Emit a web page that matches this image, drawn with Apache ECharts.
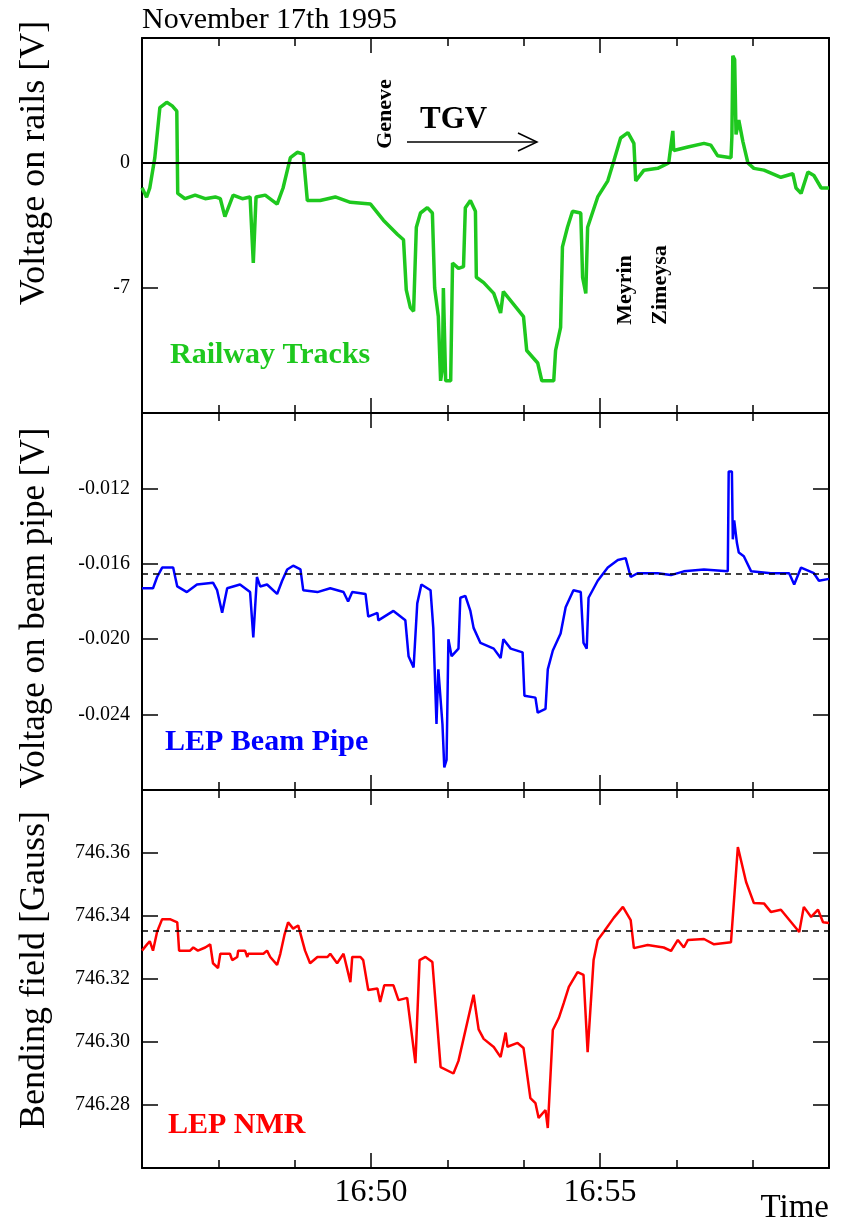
<!DOCTYPE html>
<html><head><meta charset="utf-8">
<script src="https://cdn.jsdelivr.net/npm/echarts/dist/echarts.min.js"></script>
<style>html,body{margin:0;padding:0;background:#fff}#c{width:841px;height:1222px}</style>
</head><body><div id="c"></div>
<script>
// time in minutes after 16:45
const startHour = 16, startMinute = 45;
const timeTicks = [5, 10];  // 16:50, 16:55

const railTime = [0.00,0.10,0.17,0.28,0.39,0.54,0.66,0.76,0.78,0.94,1.16,1.38,1.60,1.71,1.81,1.99,2.19,2.36,2.43,2.49,2.69,2.95,3.08,3.24,3.39,3.52,3.61,3.89,4.22,4.55,4.99,5.27,5.58,5.71,5.77,5.86,5.93,5.99,6.08,6.23,6.34,6.39,6.47,6.52,6.56,6.58,6.63,6.74,6.78,6.91,7.02,7.06,7.17,7.28,7.30,7.46,7.68,7.83,7.89,8.11,8.33,8.40,8.64,8.73,8.99,9.03,9.14,9.18,9.29,9.40,9.58,9.62,9.69,9.73,9.95,10.17,10.30,10.45,10.61,10.74,10.78,10.96,11.26,11.50,11.59,11.61,11.92,12.27,12.42,12.57,12.86,12.88,12.90,12.94,12.97,13.03,13.12,13.23,13.36,13.58,13.95,14.21,14.28,14.39,14.54,14.67,14.83,15.00];
const railVolt = [-1.38,-1.92,-1.4,0.3,3.1,3.4,3.2,2.9,-1.7,-2.0,-1.8,-2.0,-1.9,-2.0,-3.0,-1.8,-2.0,-1.9,-5.6,-1.9,-1.8,-2.3,-1.4,0.3,0.6,0.5,-2.1,-2.1,-1.9,-2.2,-2.3,-3.2,-4.0,-4.3,-7.1,-8.1,-8.3,-3.6,-2.8,-2.5,-2.8,-7.0,-8.6,-12.2,-11.5,-7.0,-12.2,-12.2,-5.6,-5.9,-5.8,-2.5,-2.1,-2.7,-6.4,-6.7,-7.3,-8.4,-7.2,-7.9,-8.6,-10.5,-11.2,-12.2,-12.2,-10.5,-9.2,-4.7,-3.6,-2.7,-2.8,-6.4,-7.3,-3.6,-1.9,-1.0,0.1,1.4,1.7,1.1,-1.0,-0.4,-0.3,0.0,1.8,0.7,0.9,1.1,1.0,0.4,0.3,1.5,6.0,5.8,1.6,2.4,1.2,0.0,-0.3,-0.4,-0.8,-0.6,-1.4,-1.7,-0.5,-0.7,-1.4,-1.4];

const pipeTime = [0.00,0.24,0.33,0.44,0.68,0.77,0.98,1.20,1.55,1.64,1.75,1.86,2.14,2.36,2.43,2.47,2.51,2.58,2.73,2.95,3.06,3.17,3.30,3.46,3.52,3.83,4.11,4.40,4.50,4.59,4.88,4.94,5.14,5.16,5.49,5.75,5.82,5.93,6.01,6.10,6.30,6.36,6.43,6.47,6.56,6.60,6.65,6.69,6.76,6.91,6.95,7.06,7.17,7.24,7.39,7.68,7.83,7.89,8.05,8.31,8.35,8.59,8.64,8.81,8.86,8.97,9.14,9.25,9.42,9.58,9.64,9.71,9.75,9.95,10.17,10.39,10.56,10.67,10.82,11.26,11.55,11.83,12.27,12.79,12.81,12.88,12.90,12.93,12.99,13.03,13.14,13.30,13.73,14.13,14.24,14.39,14.67,14.78,15.00];
const pipeVolt = [-0.0173,-0.0173,-0.0167,-0.0162,-0.0162,-0.0172,-0.0175,-0.0171,-0.0170,-0.0174,-0.0186,-0.0173,-0.0171,-0.0175,-0.0199,-0.0199,-0.0167,-0.0172,-0.0171,-0.0176,-0.0169,-0.0163,-0.0161,-0.0163,-0.0174,-0.0175,-0.0173,-0.0175,-0.0180,-0.0175,-0.0176,-0.0188,-0.0186,-0.0190,-0.0185,-0.0190,-0.0209,-0.0215,-0.0181,-0.0171,-0.0174,-0.0194,-0.0245,-0.0216,-0.0245,-0.0268,-0.0264,-0.0200,-0.0209,-0.0205,-0.0178,-0.0177,-0.0185,-0.0194,-0.0202,-0.0205,-0.0210,-0.0200,-0.0205,-0.0207,-0.0230,-0.0231,-0.0239,-0.0237,-0.0216,-0.0206,-0.0197,-0.0183,-0.0174,-0.0175,-0.0202,-0.0205,-0.0178,-0.0169,-0.0162,-0.0158,-0.0157,-0.0167,-0.0165,-0.0165,-0.0166,-0.0164,-0.0163,-0.0164,-0.0111,-0.0111,-0.0147,-0.0137,-0.0149,-0.0154,-0.0156,-0.0164,-0.0165,-0.0165,-0.0171,-0.0162,-0.0165,-0.0169,-0.0168];

const nmrTime = [0.00,0.11,0.17,0.24,0.33,0.44,0.61,0.77,0.81,1.05,1.12,1.22,1.38,1.49,1.55,1.66,1.71,1.92,1.97,2.08,2.10,2.25,2.30,2.32,2.65,2.73,2.80,2.95,3.02,3.11,3.19,3.30,3.41,3.56,3.67,3.83,4.05,4.11,4.26,4.40,4.55,4.59,4.77,4.83,4.94,5.14,5.20,5.29,5.49,5.60,5.79,5.97,6.06,6.19,6.34,6.52,6.80,6.91,7.24,7.35,7.46,7.68,7.83,7.94,7.98,8.20,8.33,8.48,8.59,8.66,8.81,8.86,8.97,9.10,9.21,9.32,9.51,9.64,9.73,9.86,9.95,10.08,10.30,10.50,10.67,10.74,11.04,11.39,11.55,11.70,11.83,11.92,12.27,12.49,12.86,13.01,13.19,13.36,13.58,13.73,13.95,14.35,14.45,14.61,14.76,14.87,15.00];
const nmrField = [746.329,746.331,746.332,746.329,746.335,746.339,746.339,746.338,746.329,746.329,746.330,746.329,746.330,746.331,746.325,746.3235,746.328,746.328,746.326,746.327,746.329,746.329,746.327,746.328,746.328,746.329,746.327,746.3245,746.328,746.334,746.338,746.336,746.337,746.329,746.325,746.327,746.327,746.328,746.325,746.328,746.319,746.327,746.327,746.326,746.3165,746.317,746.3127,746.318,746.318,746.3133,746.314,746.2933,746.326,746.327,746.3254,746.292,746.290,746.294,746.315,746.304,746.301,746.2984,746.2952,746.303,746.2985,746.2997,746.2981,746.2822,746.2806,746.2759,746.2784,746.2727,746.3038,746.3076,746.3124,746.3175,746.3222,746.3213,746.2968,746.326,746.3324,746.3349,746.3394,746.3429,746.3387,746.3298,746.3308,746.330,746.3289,746.3324,746.330,746.3324,746.3327,746.331,746.3317,746.3619,746.3508,746.3441,746.344,746.3413,746.342,746.3349,746.3429,746.3397,746.342,746.338,746.3378];

const pipeReference = -0.01654;
const nmrReference = 746.3352;

const yTitles = ['Voltage on rails [V]', 'Voltage on beam pipe [V]', 'Bending field [Gauss]'];
const panelNames = ['Railway Tracks', 'LEP Beam Pipe', 'LEP NMR'];
const colors = ['#1ec81e', '#0000ff', '#ff0000'];

const FONT = 'Liberation Serif';
const chart = echarts.init(document.getElementById('c'), null, {renderer: 'canvas'});

const grids = [
  {left: 142, top: 38, width: 687, height: 375},
  {left: 142, top: 413, width: 687, height: 377},
  {left: 142, top: 790, width: 687, height: 378}
];
const yRanges = [
  {min: -14, max: 7, interval: 7, fmt: v => String(v)},
  {min: -0.028, max: -0.008, interval: 0.004, fmt: v => v.toFixed(3)},
  {min: 746.26, max: 746.38, interval: 0.02, fmt: v => v.toFixed(2)}
];

function tlabel(v) {
  const m = startHour * 60 + startMinute + v;
  const hh = Math.floor(m / 60), mm = Math.round(m % 60);
  return hh + ':' + (mm < 10 ? '0' : '') + mm;
}

const axLine = {show: true, onZero: false, lineStyle: {color: '#000', width: 2}};
const xAxes = [], yAxes = [];
grids.forEach((g, i) => {
  ['bottom', 'top'].forEach(pos => {
    xAxes.push({
      type: 'value', gridIndex: i, position: pos, min: 0, max: 15, interval: 5,
      axisLine: axLine,
      axisTick: {show: true, inside: true, length: 15, lineStyle: {color: '#000', width: 1.5}},
      minorTick: {show: true, splitNumber: 3, length: 8, lineStyle: {color: '#000', width: 1.5}},
      splitLine: {show: false}, minorSplitLine: {show: false},
      axisLabel: {
        show: i === 2 && pos === 'bottom', showMinLabel: false, showMaxLabel: false,
        formatter: v => timeTicks.includes(v) ? tlabel(v) : '',
        fontFamily: FONT, fontSize: 32, color: '#000', margin: 9
      }
    });
  });
  ['left', 'right'].forEach(pos => {
    const r = yRanges[i];
    yAxes.push({
      type: 'value', gridIndex: i, position: pos, min: r.min, max: r.max, interval: r.interval,
      axisLine: axLine,
      axisTick: {show: true, inside: true, length: 16, lineStyle: {color: '#000', width: 1.5}},
      splitLine: {show: false},
      axisLabel: {
        show: pos === 'left', showMinLabel: false, showMaxLabel: false,
        formatter: r.fmt, fontFamily: FONT, fontSize: 20, color: '#000', margin: 12
      }
    });
  });
});

const zip = (a, b) => a.map((t, k) => [t, b[k]]);
const refLine = (value, type, width) => ({silent: true, symbol: 'none', precision: 8, label: {show: false},
  lineStyle: {color: '#000', type, width}, data: [{yAxis: value}]});
const series = [
  {
    type: 'line', name: panelNames[0], xAxisIndex: 0, yAxisIndex: 0, data: zip(railTime, railVolt),
    showSymbol: false, lineStyle: {color: colors[0], width: 3.5}, z: 2,
    markLine: refLine(0, 'solid', 2)
  },
  {
    type: 'line', name: panelNames[1], xAxisIndex: 2, yAxisIndex: 2, data: zip(pipeTime, pipeVolt),
    showSymbol: false, lineStyle: {color: colors[1], width: 2.5}, z: 2,
    markLine: refLine(pipeReference, [6, 5], 1.5)
  },
  {
    type: 'line', name: panelNames[2], xAxisIndex: 4, yAxisIndex: 4, data: zip(nmrTime, nmrField),
    showSymbol: false, lineStyle: {color: colors[2], width: 2.5}, z: 2,
    markLine: refLine(nmrReference, [6, 5], 1.5)
  }
];

const txt = (text, x, y, o) => ({type: 'text', x, y, rotation: o.rot || 0, z: 10,
  style: {text, fill: o.color || '#000', font: (o.weight || 'normal') + ' ' + o.size + 'px "' + FONT + '"',
    textAlign: o.align || 'left', textVerticalAlign: o.valign || 'middle'}});

const graphic = [
  txt('November 17th 1995', 142, 20, {size: 30}),
  txt(yTitles[0], 35, 163, {size: 36, rot: Math.PI / 2, align: 'center'}),
  txt(yTitles[1], 35, 608, {size: 35, rot: Math.PI / 2, align: 'center'}),
  txt(yTitles[2], 35, 970, {size: 36, rot: Math.PI / 2, align: 'center'}),
  txt(panelNames[0], 170, 355, {size: 30, weight: 'bold', color: colors[0]}),
  txt(panelNames[1], 165, 742, {size: 30, weight: 'bold', color: colors[1]}),
  txt(panelNames[2], 168, 1125, {size: 30, weight: 'bold', color: colors[2]}),
  txt('Geneve', 385, 114, {size: 22, weight: 'bold', rot: Math.PI / 2, align: 'center'}),
  txt('TGV', 420, 120, {size: 31, weight: 'bold'}),
  txt('Meyrin', 625, 290, {size: 22, weight: 'bold', rot: Math.PI / 2, align: 'center'}),
  txt('Zimeysa', 660, 285, {size: 22, weight: 'bold', rot: Math.PI / 2, align: 'center'}),
  txt('Time', 829, 1208, {size: 33, align: 'right'}),
  {type: 'polyline', z: 10, shape: {points: [[407, 142], [537, 142]]}, style: {stroke: '#000', lineWidth: 1.5, fill: null}},
  {type: 'polyline', z: 10, shape: {points: [[518, 133], [537, 142], [518, 151]]}, style: {stroke: '#000', lineWidth: 1.5, fill: null}}
];

chart.setOption({
  animation: false,
  backgroundColor: '#fff',
  grid: grids.map(g => Object.assign({containLabel: false}, g)),
  xAxis: xAxes, yAxis: yAxes, series, graphic
});
</script></body></html>
